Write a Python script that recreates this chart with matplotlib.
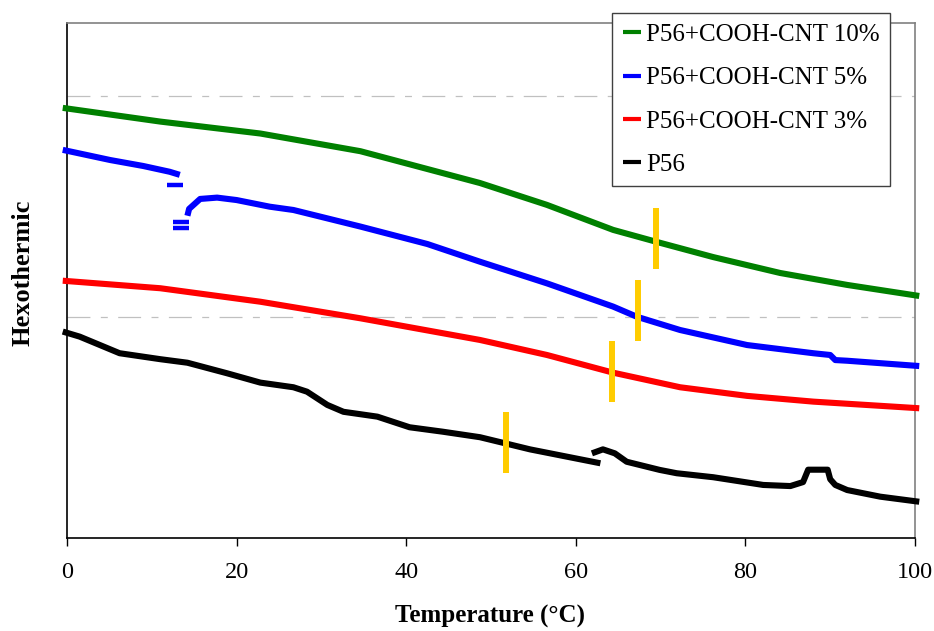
import numpy as np
import matplotlib
matplotlib.use("Agg")
import matplotlib.pyplot as plt

plt.rcParams['font.family'] = ['Liberation Serif', 'DejaVu Serif']
plt.rcParams['lines.scale_dashes'] = False

nan = np.nan

# DSC heat-flow traces (arbitrary units, exothermic up)
t_10 = [-0.5, 11.0, 22.8, 34.6, 48.7, 56.6, 64.4, 69.6, 76.2, 84.1, 92.0, 100.5]
h_10 = [1.946, 1.884, 1.830, 1.750, 1.606, 1.507, 1.394, 1.339, 1.271, 1.199, 1.145, 1.095]

t_5 = [-0.5, 5.1, 9.0, 12.1, 13.3, nan,
       14.2, 14.4, 15.7, 17.7, 20.0, 23.9, 26.7, 34.6, 42.5, 48.7, 56.6,
       64.4, 67.2, 72.3, 80.2, 88.0, 90.0, 90.6, 92.0, 100.5]
h_5 = [1.756, 1.710, 1.683, 1.657, 1.643, nan,
       1.458, 1.489, 1.534, 1.540, 1.529, 1.499, 1.484, 1.409, 1.330, 1.250, 1.152,
       1.047, 1.001, 0.941, 0.873, 0.836, 0.828, 0.805, 0.802, 0.778]
# scattered readings around the 13 °C transient
t_5_pts = [12.7, 13.4, 13.5]
h_5_pts = [1.597, 1.404, 1.431]

t_3 = [-0.5, 11.0, 22.8, 34.6, 48.7, 56.6, 64.4, 72.3, 80.2, 88.0, 100.5]
h_3 = [1.164, 1.130, 1.069, 0.994, 0.896, 0.828, 0.748, 0.682, 0.643, 0.617, 0.587]

t_0 = [-0.5, 1.5, 6.2, 11.0, 14.2, 18.9, 22.8, 26.7, 28.3, 30.7, 32.6, 36.6,
       40.4, 44.3, 48.7, 54.6, 62.9, nan,
       61.9, 63.2, 64.6, 66.0, 69.9, 71.9, 76.2, 82.1, 85.3, 86.8, 87.4, 89.7,
       90.0, 90.6, 92.0, 95.9, 100.5]
h_0 = [0.934, 0.911, 0.836, 0.809, 0.793, 0.745, 0.703, 0.682, 0.662, 0.602, 0.571, 0.549,
       0.501, 0.481, 0.456, 0.401, 0.338, nan,
       0.383, 0.401, 0.383, 0.345, 0.308, 0.293, 0.275, 0.240, 0.235, 0.253, 0.309, 0.309,
       0.266, 0.240, 0.217, 0.187, 0.164]

# glass-transition marks: temperature, trace level, half-height
tg_temp = [69.4, 67.3, 64.3, 51.8]
tg_level = [1.355, 1.030, 0.754, 0.433]
tg_half = 0.137

labels = ['P56+COOH-CNT 10%', 'P56+COOH-CNT 5%', 'P56+COOH-CNT 3%', 'P56']
colors = ['#008000', '#0000FF', '#FF0000', '#000000']
x_ticks = [0, 20, 40, 60, 80, 100]

fig = plt.figure(figsize=(9.34, 6.31), dpi=100)
ax = fig.add_axes([67/934, 1-538/631, 848/934, 515/631])

ax.set_xlim(0, 100)
ax.set_ylim(0, 2.33)

for y in (1, 2):
    ax.axhline(y, color='#C0C0C0', lw=0.9, ls=(0, (16.5, 7.5, 5, 7.5)), zorder=1)

lw = 4.4
series = [(t_10, h_10), (t_5, h_5), (t_3, h_3), (t_0, h_0)]
handles = []
for (t, h), c, lab in zip(series, colors, labels):
    ln, = ax.plot(t, h, color=c, lw=lw, solid_capstyle='butt', clip_on=False,
                  zorder=3, label=lab)
    handles.append(ln)
ax.plot(t_5_pts, h_5_pts, ls='none', marker='_', ms=11, mew=3.2, color=colors[1],
        clip_on=False, zorder=3)

ax.vlines(tg_temp, np.array(tg_level) - tg_half, np.array(tg_level) + tg_half,
          color='#FFCC00', lw=4.3, zorder=4)

ax.set_xticks(x_ticks)
ax.set_yticks([])
ax.tick_params(axis='x', direction='out', length=5.5, width=1.0, pad=12,
               labelsize=17.5, colors='black')

for side in ('left', 'bottom'):
    ax.spines[side].set_color('black')
    ax.spines[side].set_linewidth(1.2)
for side in ('top', 'right'):
    ax.spines[side].set_color('#808080')
    ax.spines[side].set_linewidth(1.2)

ax.set_xlabel('Temperature (°C)', fontsize=18, fontweight='bold', va='center')
ax.xaxis.set_label_coords(0.4994, -0.1515)
ax.set_ylabel('Hexothermic', fontsize=19, fontweight='bold', va='center')
ax.yaxis.set_label_coords(-0.052, 0.5146)

leg = ax.legend(handles=handles, loc='upper right', bbox_to_anchor=(0.9705, 1.019),
                borderaxespad=0, fontsize=18, frameon=True, fancybox=False,
                framealpha=1, edgecolor='#404040', handlelength=0.72,
                handletextpad=0.2, borderpad=0.42, labelspacing=0.83)
leg.get_frame().set_linewidth(1.0)
for lh in leg.get_lines():
    lh.set_linewidth(3.0)

fig.savefig('out.png', dpi=100)
